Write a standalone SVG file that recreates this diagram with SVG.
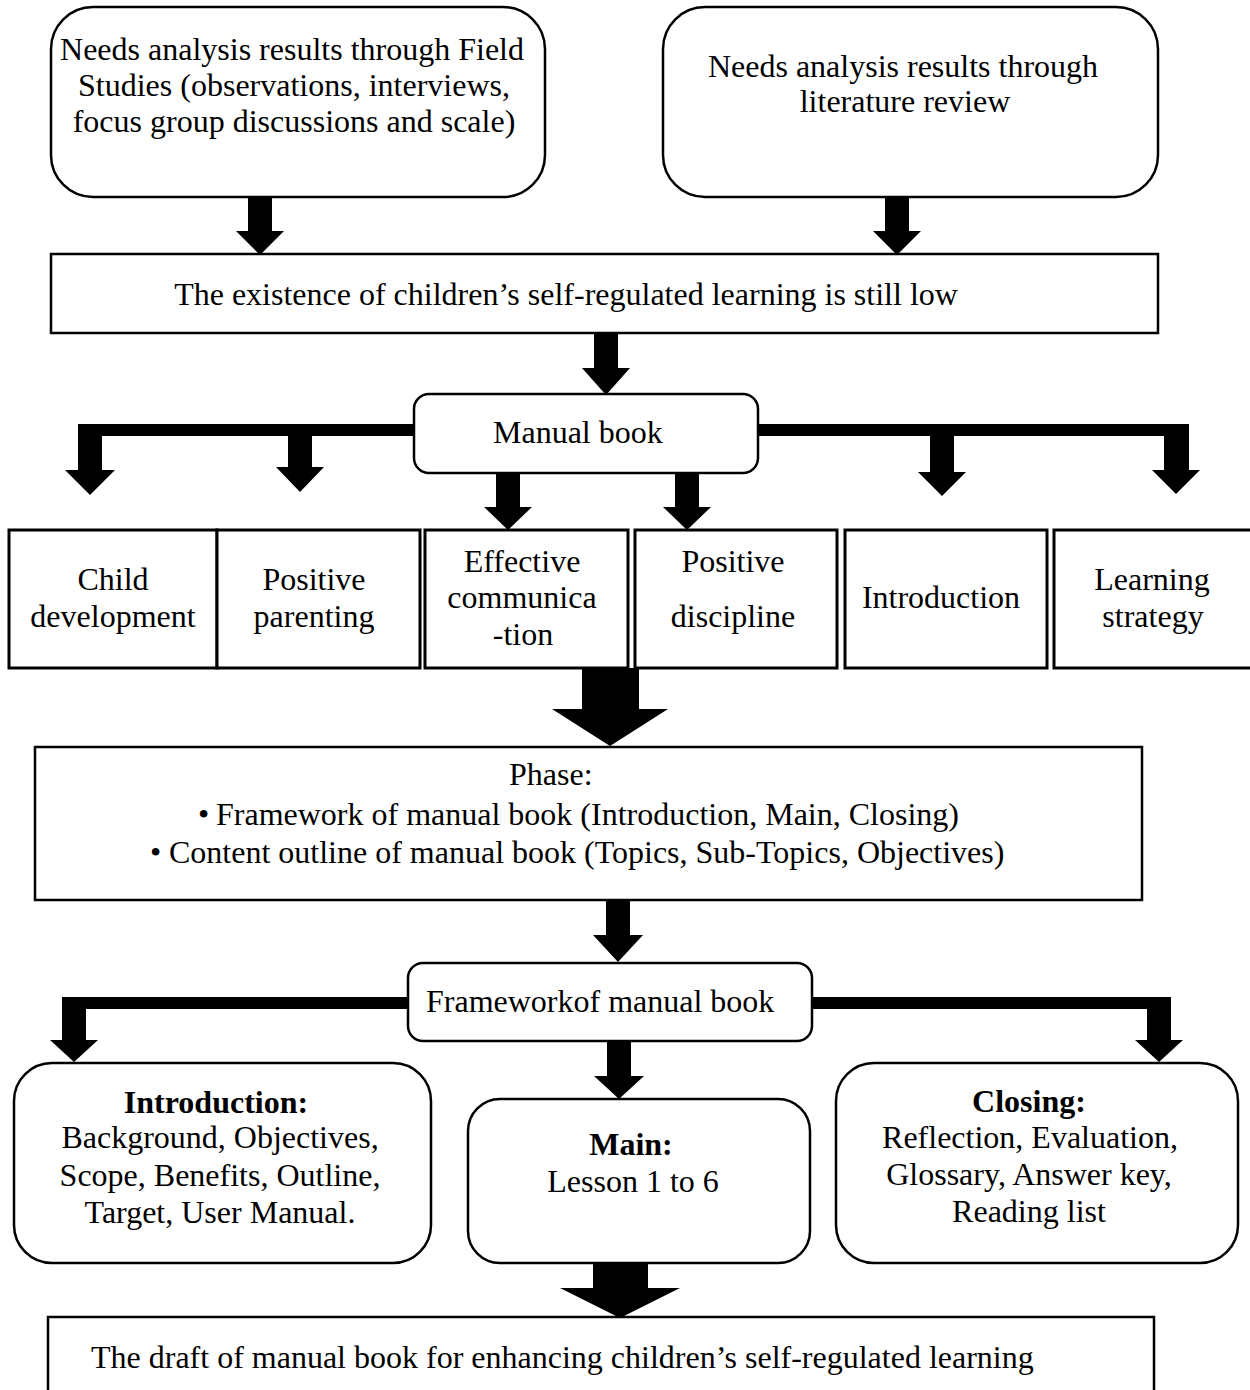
<svg xmlns="http://www.w3.org/2000/svg" width="1250" height="1390" viewBox="0 0 1250 1390">
<style>
.box{fill:#fff;stroke:#000;stroke-width:2.5}
.cell{fill:#fff;stroke:#000;stroke-width:3}
text{font-family:"Liberation Serif","Times New Roman",serif;font-size:32px;fill:#000}
.c{text-anchor:middle}
.b{font-weight:bold}
.arr{fill:#000;stroke:none}
</style>
<rect width="1250" height="1390" fill="#fff"/>
<g id="connectors">
<path class="arr" d="M248,197 H272 V231 H284 L260,255 L236,231 H248 Z"/>
<path class="arr" d="M885,197 H909 V231 H921 L897,255 L873,231 H885 Z"/>
<path class="arr" d="M594,333 H618 V368 H630 L606,395 L582,368 H594 Z"/>
<path class="arr" d="M415,424 H78 V470 H65 L90,495 L115,470 H102 V436 H415 Z"/>
<path class="arr" d="M288,430 H312 V467 H324 L300,492 L276,467 H288 Z"/>
<path class="arr" d="M496,472 H520 V507 H532 L508,530 L484,507 H496 Z"/>
<path class="arr" d="M675,472 H699 V507 H711 L687,530 L663,507 H675 Z"/>
<path class="arr" d="M757,424 H1189 V470 H1200 L1176,494 L1152,470 H1164 V436 H757 Z"/>
<path class="arr" d="M930,430 H954 V472 H966 L942,496 L918,472 H930 Z"/>
<path class="arr" d="M582,668 H639 V709 H668 L610,746 L552,709 H582 Z"/>
<path class="arr" d="M606,901 H630 V935 H643 L618,962 L593,935 H606 Z"/>
<path class="arr" d="M408,997 H62 V1040 H50 L74,1062 L98,1040 H86 V1009 H408 Z"/>
<path class="arr" d="M811,997 H1171 V1040 H1183 L1159,1062 L1135,1040 H1147 V1009 H811 Z"/>
<path class="arr" d="M607,1041 H631 V1076 H644 L619,1099 L594,1076 H607 Z"/>
<path class="arr" d="M593,1263 H648 V1288 H680 L620,1318 L560,1288 H593 Z"/>
</g>
<g id="n1"><rect class="box" x="51" y="7" width="494" height="190" rx="42"/>
<text class="c" x="292" y="60">Needs analysis results through Field</text>
<text class="c" x="294" y="96">Studies (observations, interviews,</text>
<text class="c" x="294" y="132">focus group discussions and scale)</text></g>
<g id="n2"><rect class="box" x="663" y="7" width="495" height="190" rx="42"/>
<text class="c" x="903" y="77">Needs analysis results through</text>
<text class="c" x="905" y="112">literature review</text></g>
<g id="n3"><rect class="box" x="51" y="254" width="1107" height="79"/>
<text class="c" x="566" y="305">The existence of children’s self-regulated learning is still low</text></g>
<g id="n4"><rect class="box" x="414" y="394" width="344" height="79" rx="15"/>
<text x="493" y="443">Manual book</text></g>
<g id="n5"><rect class="cell" x="9" y="530" width="208" height="138"/>
<text class="c" x="113" y="590">Child</text><text class="c" x="113" y="627">development</text></g>
<g id="n6"><rect class="cell" x="217" y="530" width="203" height="138"/>
<text class="c" x="314" y="590">Positive</text><text class="c" x="314" y="627">parenting</text></g>
<g id="n7"><rect class="cell" x="425" y="530" width="203" height="138"/>
<text class="c" x="522" y="572">Effective</text><text class="c" x="522" y="608">communica</text><text class="c" x="523" y="645">-tion</text></g>
<g id="n8"><rect class="cell" x="635" y="530" width="202" height="138"/>
<text class="c" x="733" y="572">Positive</text><text class="c" x="733" y="627">discipline</text></g>
<g id="n9"><rect class="cell" x="845" y="530" width="202" height="138"/>
<text class="c" x="941" y="608">Introduction</text></g>
<g id="n10"><rect class="cell" x="1054" y="530" width="210" height="138"/>
<text class="c" x="1152" y="590">Learning</text><text class="c" x="1153" y="627">strategy</text></g>
<g id="n11"><rect class="box" x="35" y="747" width="1107" height="153"/>
<text x="509" y="785">Phase:</text>
<text x="198" y="825">•<tspan x="216">Framework of manual book (Introduction, Main, Closing)</tspan></text>
<text x="150" y="863">•<tspan x="169">Content outline of manual book (Topics, Sub-Topics, Objectives)</tspan></text></g>
<g id="n12"><rect class="box" x="408" y="963" width="404" height="78" rx="15"/>
<text x="426" y="1012">Frameworkof manual book</text></g>
<g id="n13"><rect class="box" x="14" y="1063" width="417" height="200" rx="38"/>
<text class="c b" x="216" y="1113">Introduction:</text>
<text class="c" x="220" y="1148">Background, Objectives,</text>
<text class="c" x="220" y="1186">Scope, Benefits, Outline,</text>
<text class="c" x="220" y="1223">Target, User Manual.</text></g>
<g id="n14"><rect class="box" x="468" y="1099" width="342" height="164" rx="32"/>
<text class="c b" x="631" y="1155">Main:</text>
<text class="c" x="633" y="1192">Lesson 1 to 6</text></g>
<g id="n15"><rect class="box" x="836" y="1063" width="402" height="200" rx="38"/>
<text class="c b" x="1029" y="1112">Closing:</text>
<text class="c" x="1030" y="1148">Reflection, Evaluation,</text>
<text class="c" x="1029" y="1185">Glossary, Answer key,</text>
<text class="c" x="1029" y="1222">Reading list</text></g>
<g id="n16"><rect class="box" x="48" y="1317" width="1106" height="90"/>
<text x="91" y="1368">The draft of manual book for enhancing children’s self-regulated learning</text></g>
</svg>
